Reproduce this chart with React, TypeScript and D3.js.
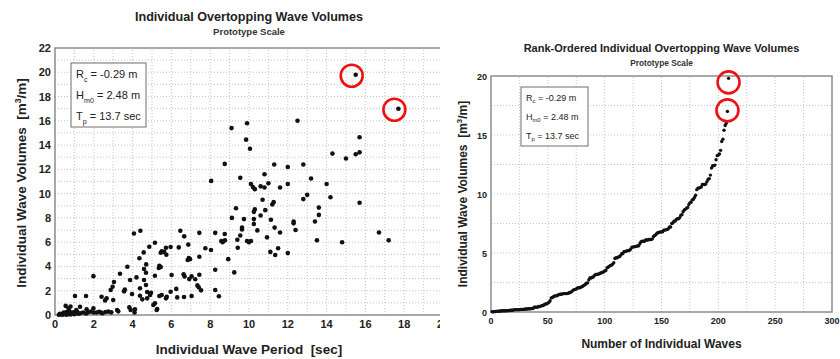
import React from "react";
import * as d3 from "d3";

// Individual overtopping events: wave period (s) and overtopping volume (m^3/m)
const periods = [
  15.5, 17.7, 12.5, 15.7, 14.3, 15.0, 15.5, 15.7, 12.0, 12.8, 13.2, 12.0, 11.6, 14.0, 13.0, 12.8, 14.2, 15.7,
  13.6, 13.6, 13.4, 12.3, 12.3, 12.4, 11.6, 16.7, 17.2, 13.5, 14.8, 11.5, 12.0, 11.1, 11.35,
  9.1, 9.9, 9.85, 10.05, 8.75, 11.3, 8.05, 9.55, 10.8, 11.0, 10.1, 10.2, 10.3, 10.6, 10.8, 10.7, 11.27, 11.2,
  9.33, 9.12, 10.3, 10.25, 10.84, 10.6, 9.74, 10.25, 10.25, 11.13, 9.64, 9.64, 10.43, 11.32, 9.55, 9.4, 10.93,
  9.9, 10.0, 10.1, 8.57, 8.64, 8.76, 8.75, 8.26, 8.04, 7.75, 7.44, 6.87, 6.46, 6.66, 5.96, 6.38, 5.72, 5.63,
  5.74, 5.5, 5.45, 5.15, 4.86, 4.57, 4.4, 4.7, 4.59, 4.69, 5.38, 5.45, 5.35, 6.01, 6.9, 6.96, 6.84, 7.44, 6.63,
  6.68, 7.04, 6.92, 7.23, 7.44, 7.34, 7.41, 7.53, 8.26, 8.26, 8.45, 8.93, 9.24, 9.42, 5.96, 7.04, 6.65, 4.07,
  4.35, 3.73,
  1.98, 3.35, 3.04, 2.97, 2.87, 3.87, 4.2, 4.59, 5.15, 4.69, 4.38, 3.6, 6.25,
  4.75, 4.95, 4.9, 4.75, 4.5, 5.5, 5.76, 5.72, 3.56, 3.97, 4.38, 2.4, 2.58, 2.66, 1.6, 1.03, 3.0, 5.38, 6.3,
  5.15, 5.07, 3.83, 1.29, 0.55, 0.8,
  5.27, 3.9, 4.12, 3.2, 5.24, 1.63, 1.98, 0.7, 1.1,
  2.28, 2.0, 2.35, 2.6, 2.75, 3.26, 0.45, 0.6, 0.75, 0.85, 0.95, 1.05, 1.15, 1.3, 1.45, 1.7, 1.85, 2.15, 2.45,
  2.9, 4.1, 0.65, 1.6,
  0.2, 0.3, 0.35, 0.4, 0.5, 0.55, 0.7, 0.8, 0.9, 1.0, 1.2, 0.25, 0.45, 0.6,
];

const volumes = [
  19.8, 17.0, 16.0, 14.65, 13.3, 12.9, 13.25, 13.4, 12.2, 12.4, 11.25, 10.8, 10.5, 10.8, 9.9, 9.55, 9.7, 9.25,
  8.85, 8.25, 7.7, 7.7, 7.55, 7.0, 6.8, 6.8, 6.15, 6.15, 6.0, 5.5, 5.1, 5.2, 4.95,
  15.4, 15.8, 14.45, 13.7, 12.45, 12.4, 11.05, 11.3, 11.6, 10.85, 10.8, 10.55, 10.37, 10.6, 10.5, 9.5, 9.3, 9.1,
  8.8, 8.0, 8.7, 8.5, 8.64, 8.2, 7.9, 7.9, 7.5, 7.85, 7.2, 7.05, 6.97, 7.2, 6.55, 6.2, 6.4,
  6.1, 6.0, 6.1, 6.1, 6.0, 6.15, 6.67, 6.77, 5.35, 5.5, 6.77, 5.8, 6.94, 6.48, 5.6, 5.57, 5.54, 5.2,
  4.96, 5.24, 5.13, 5.95, 5.62, 5.16, 6.94, 4.17, 3.79, 3.48, 4.06, 3.95, 3.87, 3.29, 4.69, 4.6, 4.53, 4.8, 3.35,
  3.18, 3.18, 2.96, 2.94, 3.32, 2.44, 2.28, 2.03, 3.73, 2.06, 1.54, 4.6, 3.51, 5.54, 1.92, 1.56, 1.48, 6.72,
  4.67, 3.97,
  3.2, 3.4, 2.72, 2.33, 2.06, 2.88, 3.1, 2.88, 3.23, 2.47, 2.2, 2.1, 2.15,
  1.9, 1.83, 1.65, 1.37, 1.29, 1.65, 1.5, 1.37, 1.95, 1.73, 1.59, 1.5, 1.2, 1.37, 1.56, 1.56, 1.23, 1.56, 1.45,
  0.96, 0.82, 0.63, 0.68, 0.75, 0.7,
  0.5, 0.41, 0.47, 0.41, 0.41, 0.47, 0.55, 0.55, 0.4,
  0.27, 0.2, 0.22, 0.25, 0.28, 0.3, 0.2, 0.25, 0.3, 0.15, 0.22, 0.18, 0.25, 0.15, 0.2, 0.22, 0.28, 0.2, 0.15,
  0.22, 0.2, 0.13, 0.12,
  0.02, 0.05, 0.08, 0.03, 0.1, 0.06, 0.09, 0.04, 0.1, 0.07, 0.1, 0.1, 0.11, 0.02,
];

const periodTicks = [0, 2, 4, 6, 8, 10, 12, 14, 16, 18, 20];
const volumeTicks = [0, 2, 4, 6, 8, 10, 12, 14, 16, 18, 20, 22];
const rankTicks = [0, 50, 100, 150, 200, 250, 300];
const rankVolumeTicks = [0, 5, 10, 15, 20];

const conditionSymbols = ["R", "H", "T"];
const conditionSubscripts = ["c", "m0", "p"];
const conditionValues = ["= -0.29 m", "= 2.48 m", "= 13.7 sec"];

const FONT = "'Liberation Sans', Arial, Helvetica, sans-serif";
const AXIS = "#8c8c8c";
const GRID = "#b4b4b4";
const GAP = "\u00a0\u00a0";

const events = periods.map((t, i) => ({ t, v: volumes[i] }));
const ranked = volumes
  .slice()
  .sort((a, b) => a - b)
  .map((v, i) => ({ rank: i + 1, v }));
const largest = events.slice().sort((a, b) => b.v - a.v).slice(0, 2);
const largestRanked = ranked.slice(-2).reverse();

function Conditions({ x, y, w, h, size, step }) {
  return (
    <g>
      <rect x={x} y={y} width={w} height={h} fill="white" stroke="#6e6e6e" strokeWidth={1} />
      {conditionSymbols.map((s, i) => (
        <text key={s} x={x + 5} y={y + step * 0.55 + i * step + size * 0.35} fontSize={size} fontFamily={FONT} fill="#222">
          {s}
          <tspan fontSize={size * 0.65} dy={size * 0.3}>{conditionSubscripts[i]}</tspan>
          <tspan dy={-size * 0.3}>{" " + conditionValues[i]}</tspan>
        </text>
      ))}
    </g>
  );
}

function YLabel({ x, y, size }) {
  return (
    <text
      transform={`translate(${x},${y}) rotate(-90)`}
      textAnchor="middle"
      fontSize={size}
      fontWeight="bold"
      fontFamily={FONT}
      fill="#222"
    >
      {"Individual Wave Volumes" + GAP + "[m"}
      <tspan fontSize={size * 0.65} dy={-size * 0.4}>3</tspan>
      <tspan dy={size * 0.4}>/m]</tspan>
    </text>
  );
}

function ScatterPanel() {
  const x = d3.scaleLinear().domain([0, 20]).range([55, 443]);
  const y = d3.scaleLinear().domain([0, 22]).range([315, 48]);
  const gridX = d3.range(1, 20, 1);
  const gridY = d3.range(1, 22, 1);
  const cx = (x(0) + x(20)) / 2;
  return (
    <g>
      <defs>
        <clipPath id="leftPanel">
          <rect x={0} y={0} width={440} height={359} />
        </clipPath>
      </defs>
      <g clipPath="url(#leftPanel)">
        <text x={cx} y={21} textAnchor="middle" fontSize={12.6} fontWeight="bold" fontFamily={FONT} fill="#222">
          Individual Overtopping Wave Volumes
        </text>
        <text x={cx} y={35} textAnchor="middle" fontSize={9.5} fontWeight="bold" fontFamily={FONT} fill="#333">
          Prototype Scale
        </text>
        {gridX.map((g) => (
          <line key={"gx" + g} x1={x(g)} x2={x(g)} y1={y(0)} y2={y(22)} stroke={GRID} strokeWidth={0.8} strokeDasharray="1,2" />
        ))}
        {gridY.map((g) => (
          <line key={"gy" + g} x1={x(0)} x2={x(20)} y1={y(g)} y2={y(g)} stroke={GRID} strokeWidth={0.8} strokeDasharray="1,2" />
        ))}
        <rect x={x(0)} y={y(22)} width={x(20) - x(0)} height={y(0) - y(22)} fill="none" stroke={AXIS} strokeWidth={1.5} />
        {volumeTicks.map((t) => (
          <text key={"vt" + t} x={x(0) - 4} y={y(t) + 4} textAnchor="end" fontSize={11} fontWeight="bold" fontFamily={FONT} fill="#222">
            {t}
          </text>
        ))}
        {periodTicks.map((t) => (
          <text key={"pt" + t} x={x(t)} y={y(0) + 13} textAnchor="middle" fontSize={11} fontWeight="bold" fontFamily={FONT} fill="#222">
            {t}
          </text>
        ))}
        {events.map((d, i) => (
          <circle key={i} cx={x(d.t)} cy={y(d.v)} r={2.3} fill="#111" />
        ))}
        {largest.map((d, i) => (
          <circle key={"hl" + i} cx={x(d.t) - 4} cy={y(d.v) + 1} r={11} fill="none" stroke="#ee1111" strokeWidth={2.6} />
        ))}
        <Conditions x={71} y={63} w={75} h={64} size={11} step={21} />
        <text x={cx} y={354} textAnchor="middle" fontSize={13.5} fontWeight="bold" fontFamily={FONT} fill="#222">
          {"Individual Wave Period" + GAP + "[sec]"}
        </text>
        <YLabel x={26} y={183} size={13.5} />
      </g>
    </g>
  );
}

function RankPanel() {
  const x = d3.scaleLinear().domain([0, 300]).range([491, 832]);
  const y = d3.scaleLinear().domain([0, 20]).range([312, 76]);
  const gridX = d3.range(25, 300, 25);
  const gridY = d3.range(2.5, 20, 2.5);
  const cx = (x(0) + x(300)) / 2;
  return (
    <g>
      <text x={cx} y={52} textAnchor="middle" fontSize={11} fontWeight="bold" fontFamily={FONT} fill="#222">
        Rank-Ordered Individual Overtopping Wave Volumes
      </text>
      <text x={cx} y={66} textAnchor="middle" fontSize={8.3} fontWeight="bold" fontFamily={FONT} fill="#333">
        Prototype Scale
      </text>
      {gridX.map((g) => (
        <line key={"rx" + g} x1={x(g)} x2={x(g)} y1={y(0)} y2={y(20)} stroke={GRID} strokeWidth={0.8} strokeDasharray="1,2" />
      ))}
      {gridY.map((g) => (
        <line key={"ry" + g} x1={x(0)} x2={x(300)} y1={y(g)} y2={y(g)} stroke={GRID} strokeWidth={0.8} strokeDasharray="1,2" />
      ))}
      <rect x={x(0)} y={y(20)} width={x(300) - x(0)} height={y(0) - y(20)} fill="none" stroke={AXIS} strokeWidth={1.5} />
      {rankVolumeTicks.map((t) => (
        <text key={"rv" + t} x={x(0) - 4} y={y(t) + 3.5} textAnchor="end" fontSize={9} fontWeight="bold" fontFamily={FONT} fill="#222">
          {t}
        </text>
      ))}
      {rankTicks.map((t) => (
        <text key={"rt" + t} x={x(t)} y={y(0) + 11.5} textAnchor="middle" fontSize={9} fontWeight="bold" fontFamily={FONT} fill="#222">
          {t}
        </text>
      ))}
      {ranked.map((d) => (
        <circle key={d.rank} cx={x(d.rank)} cy={y(d.v)} r={1.7} fill="#111" />
      ))}
      {largestRanked.map((d, i) => (
        <circle key={"rh" + i} cx={x(d.rank)} cy={y(d.v) + (i === 0 ? 4 : -1)} r={11} fill="none" stroke="#ee1111" strokeWidth={2.6} />
      ))}
      <Conditions x={521} y={87} w={67} h={59} size={9} step={19} />
      <text x={cx} y={348} textAnchor="middle" fontSize={12} fontWeight="bold" fontFamily={FONT} fill="#222">
        Number of Individual Waves
      </text>
      <YLabel x={467} y={194} size={12} />
    </g>
  );
}

export default function App() {
  return (
    <svg
      width={840}
      height={359}
      viewBox="0 0 840 359"
      style={{ position: "absolute", left: 0, top: 0, background: "white" }}
    >
      <rect x={0} y={0} width={840} height={359} fill="white" />
      <ScatterPanel />
      <RankPanel />
    </svg>
  );
}
